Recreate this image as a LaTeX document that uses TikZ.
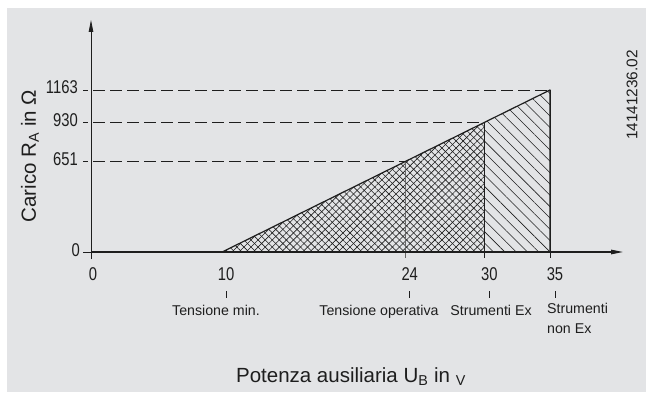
\documentclass[tikz,border=0pt]{standalone}
\usepackage{fontspec}
\setmainfont{Liberation Sans}
\newfontfamily\isofont[FakeStretch=0.8]{Liberation Sans}
\usetikzlibrary{arrows.meta, patterns.meta, positioning, calc}
\definecolor{panel}{RGB}{227,228,230}
\definecolor{ink}{RGB}{30,30,30}

\begin{document}
\begin{tikzpicture}[
			x=1pt, y=1pt,
			every node/.style={text=ink, inner sep=0pt},
			axis/.style={draw=ink, line width=1.2pt},
			val/.style={font=\isofont\fontsize{18.5}{18.5}\selectfont},
			note/.style={font=\fontsize{14.2}{19}\selectfont, align=left},
			title/.style={font=\fontsize{20.5}{24}\selectfont},
			guide/.style={draw=ink, line width=0.8pt, dash pattern=on 12pt off 5pt, dash phase=7pt},
			pin/.style={draw=ink, line width=0.8pt},
			tip/.style={-{Triangle[length=12pt,width=4.5pt]}}
		]
		\useasboundingbox (0,0) rectangle (646,392);
		\fill[panel] (7,0) rectangle (646,384);
		\begin{scope}[shift={(91,140)}, x=13.114pt, y=0.13929pt]
			\coordinate (o) at (0,0);
			\coordinate (a) at (10,0);
			\coordinate (b) at (24,651.3);
			\coordinate (c) at (30,930.4);
			\coordinate (d) at (35,1163);
			\coordinate (b0) at (24,0);
			\coordinate (c0) at (30,0);
			\coordinate (d0) at (35,0);
			\coordinate (ytop) at (0,1666);
			\coordinate (xend) at (40.57,0);
		\end{scope}
		\fill[pattern={Lines[angle=45,distance=5pt,line width=0.6pt]}, pattern color=ink] (a) -- (c) -- (c0) -- cycle;
		\fill[pattern={Lines[angle=-45,distance=5pt,line width=0.6pt]}, pattern color=ink] (a) -- (c) -- (c0) -- cycle;
		\fill[pattern={Lines[angle=-45,distance=8pt,line width=0.55pt]}, pattern color=ink] (c0) -- (c) -- (d) -- (d0) -- cycle;
		\draw[guide] ($(o|-b)+(-8,0)$) -- (b);
		\draw[guide] ($(o|-c)+(-8,0)$) -- (c);
		\draw[guide] ($(o|-d)+(-8,0)$) -- (d);
		\draw[pin] (o) -- ++(-8,0);
		\draw[draw=gray!80!black, line width=0.6pt] (b) -- ([yshift=-6pt]b0);
		\draw[pin] (c) -- ([yshift=-6pt]c0);
		\draw[pin] (d) -- ([yshift=-6pt]d0);
		\draw[tip, draw=ink, line width=0.8pt] ([yshift=-7pt]o) -- (ytop);
		\draw[axis, tip] (o) -- (xend);
		\draw[axis, line join=round] (a) -- (d) -- (d0);
		\node[val, anchor=base east, yshift=-4pt] (r0) at ($(o)+(-11,0)$) {0};
		\node[val, anchor=base east, yshift=-4pt] (r651) at ($(o|-b)+(-13,0)$) {651};
		\node[val, anchor=base east, yshift=-4pt] (r930) at ($(o|-c)+(-13,0)$) {930};
		\node[val, anchor=base east, yshift=-4pt] (r1163) at ($(o|-d)+(-13,0)$) {1163};
		\node[val, anchor=north, yshift=-15pt, xshift=2pt] (u0) at (o) {0};
		\node[val, anchor=north, yshift=-15pt, xshift=4pt] (u10) at (a) {10};
		\node[val, anchor=north, yshift=-15pt, xshift=4pt] (u24) at (b0) {24};
		\node[val, anchor=north, yshift=-15pt, xshift=5pt] (u30) at (c0) {30};
		\node[val, anchor=north, yshift=-15pt, xshift=5pt] (u35) at (d0) {35};
		\foreach \n in {u10,u24,u30,u35}
			\draw[pin, line width=0.6pt] ([yshift=-11pt]\n.south) -- ++(0,-7);
		\node[note, anchor=base] (tmin) at (216,77) {Tensione min.};
		\node[note, anchor=base] (top) at (379,77) {Tensione operativa};
		\node[note, anchor=base] (sex) at (491,77) {Strumenti Ex};
		\node[note, anchor=north west] (snex) at (547,89) {Strumenti\\[1pt]non Ex};
		\node[title, anchor=base] (xlab) at (351,10) {Potenza ausiliaria U\textsubscript{B} in \textsubscript{V}};
		\node[title, rotate=90] (ylab) at (30,236) {Carico R\textsubscript{A} in Ω};
		\node[font=\fontsize{15.4}{18}\selectfont, rotate=90] (code) at (632,297) {14141236.02};
	\end{tikzpicture}
\end{document}
